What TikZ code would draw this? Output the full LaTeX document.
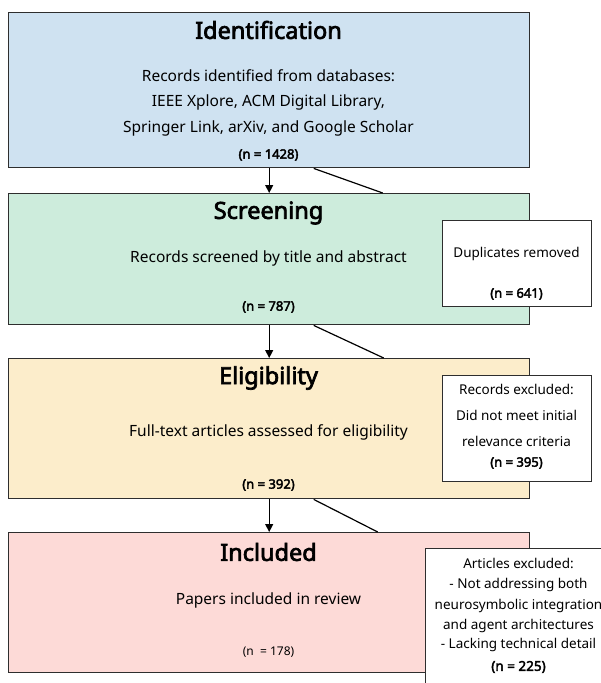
\documentclass[tikz,border=0pt]{standalone}
\usepackage{fontspec}
\setmainfont{Noto Sans}[AutoFakeBold=3]
\usetikzlibrary{arrows.meta}
\definecolor{idfill}{HTML}{CFE2F1}
\definecolor{scfill}{HTML}{CDECDC}
\definecolor{elfill}{HTML}{FCEDCB}
\definecolor{infill}{HTML}{FDDAD7}
\definecolor{edge}{HTML}{2E2E2E}
\tikzset{
  mainbox/.style={draw=edge, line width=1.4pt, minimum width=521pt, inner sep=0pt, anchor=north west},
  sidebox/.style={draw=edge, line width=1.4pt, fill=white, inner sep=0pt, anchor=north west},
  titletext/.style={font=\fontsize{23.5}{27}\selectfont\bfseries, inner sep=0pt},
  bodytext/.style={font=\fontsize{15.5}{19}\selectfont, inner sep=0pt},
  ntext/.style={font=\fontsize{13}{15}\selectfont\bfseries, inner sep=0pt},
  sidetext/.style={font=\fontsize{13.5}{16}\selectfont, inner sep=0pt},
  flowarrow/.style={draw=black, line width=1.2pt, -{Triangle[length=8pt,width=8pt]}},
  diagline/.style={draw=black, line width=1.2pt}
}
\begin{document}
\begin{tikzpicture}[x=1pt,y=-1pt]
\useasboundingbox (0,0) rectangle (601,683);
\clip (0,0) rectangle (601,683);
\fill[white] (0,0) rectangle (601,683);
% main boxes
\node[mainbox, fill=idfill, minimum height=155pt] (ident) at (8,12) {};
\node[mainbox, fill=scfill, minimum height=131pt] (screen) at (8,193) {};
\node[mainbox, fill=elfill, minimum height=140pt] (elig) at (8,358) {};
\node[mainbox, fill=infill, minimum height=140pt] (incl) at (8,532) {};
% texts in main boxes
\node[titletext] (identT) at (268.5,30) {Identification};
\node[bodytext] (identL1) at (268.5,76) {Records identified from databases:};
\node[bodytext] (identL2) at (268.5,102) {IEEE Xplore, ACM Digital Library,};
\node[bodytext] (identL3) at (268.5,128) {Springer Link, arXiv, and Google Scholar};
\node[ntext] (identN) at (268.5,155) {(n = 1428)};
\node[titletext] (screenT) at (268.5,213) {Screening};
\node[bodytext] (screenL) at (268.5,258) {Records screened by title and abstract};
\node[ntext] (screenN) at (268.5,307) {(n = 787)};
\node[titletext] (eligT) at (268.5,378) {Eligibility};
\node[bodytext] (eligL) at (268.5,432) {Full-text articles assessed for eligibility};
\node[ntext] (eligN) at (268.5,485) {(n = 392)};
\node[titletext] (inclT) at (268.5,552) {Included};
\node[bodytext] (inclL) at (268.5,600) {Papers included in review};
\node[font=\fontsize{12}{14}\selectfont, inner sep=0pt] (inclN) at (268.5,652) {(n \ = 178)};
% connectors
\draw[flowarrow] (ident.south) -- (screen.north);
\draw[flowarrow] (screen.south) -- (elig.north);
\draw[flowarrow] (elig.south) -- (incl.north);
\draw[diagline] ([xshift=44.5pt]ident.south) -- ([xshift=113.5pt]screen.north);
\draw[diagline] ([xshift=44.5pt]screen.south) -- ([xshift=114.5pt]elig.north);
\draw[diagline] ([xshift=44.5pt]elig.south) -- ([xshift=108.5pt]incl.north);
% side boxes
\node[sidebox, minimum width=149pt, minimum height=86pt] (dup) at (442,220) {};
\node[sidetext] (dupL) at (516.5,254) {Duplicates removed};
\node[ntext] (dupN) at (516.5,294) {(n = 641)};
\node[sidebox, minimum width=149pt, minimum height=106pt] (recex) at (442,375) {};
\node[sidetext] (recexL1) at (516.5,389) {Records excluded:};
\node[sidetext] (recexL2) at (516.5,415) {Did not meet initial};
\node[sidetext] (recexL3) at (516.5,441) {relevance criteria};
\node[ntext] (recexN) at (516.5,463) {(n = 395)};
\node[sidebox, minimum width=187pt, minimum height=150pt] (artex) at (425,548) {};
\node[sidetext] (artexL1) at (518.5,563) {Articles excluded:};
\node[sidetext] (artexL2) at (518.5,585) {- Not addressing both};
\node[sidetext] (artexL3) at (518.5,606) {neurosymbolic integration};
\node[sidetext] (artexL4) at (518.5,626) {and agent architectures};
\node[sidetext] (artexL5) at (518.5,645) {- Lacking technical detail};
\node[sidetext, font=\fontsize{13.5}{16}\selectfont\bfseries] (artexN) at (518.5,667) {(n = 225)};
\end{tikzpicture}
\end{document}
